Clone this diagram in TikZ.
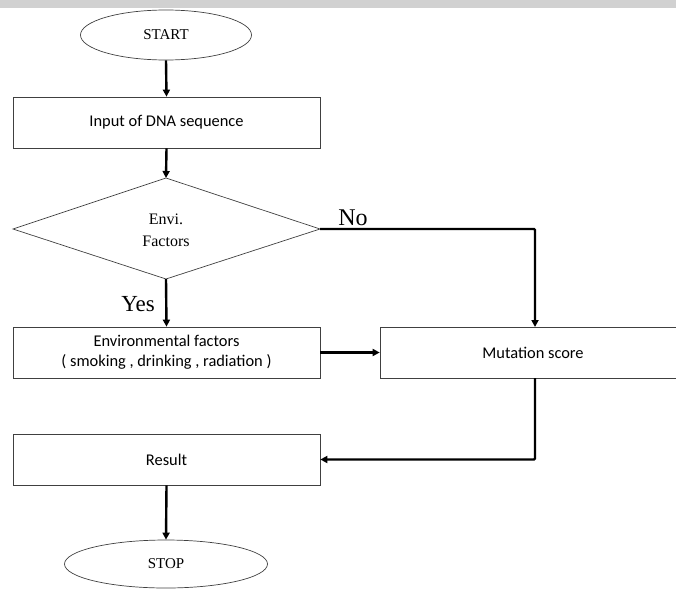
\documentclass[tikz,border=0pt]{standalone}
\usepackage{fontspec}
\setmainfont{Liberation Serif}
\newfontfamily\boxfont{Carlito}
\usetikzlibrary{arrows.meta,shapes.geometric,shadows}
\begin{document}
\begin{tikzpicture}[x=1pt,y=-1pt,
  boxstyle/.style={draw=black!75,line width=0.7pt,fill=white,rectangle,minimum width=307pt,minimum height=51pt,inner sep=0pt,align=center,font=\boxfont\fontsize{16.4}{20}\selectfont,drop shadow={shadow xshift=1.2pt,shadow yshift=-1.2pt,opacity=0.35}},
  termstyle/.style={draw=black!75,line width=0.7pt,ellipse,inner sep=0pt,font=\fontsize{15}{17}\selectfont},
  decstyle/.style={draw=black!75,line width=0.7pt,inner sep=0pt},
  flow/.style={line width=2.4pt,-{Triangle[length=7pt,width=7pt]}},
  lbl/.style={inner sep=0pt}]
\useasboundingbox (0,0) rectangle (676,589);
\fill[black!18] (0,0) rectangle (676,8);
\node[termstyle,minimum width=171pt,minimum height=50pt] (start) at (166,35) {START};
\node[boxstyle] (input) at (166.5,122.5) {Input of DNA sequence};
\coordinate (dt) at (166,178);
\coordinate (dl) at (13,229);
\coordinate (dr) at (320,229);
\coordinate (db) at (166,279);
\draw[decstyle] (dt) -- (dr) -- (db) -- (dl) -- cycle;
\node[align=center,font=\fontsize{16}{22}\selectfont] (dec) at (166,230) {Envi.\\Factors};
\node[boxstyle] (env) at (166.5,352.5) {Environmental factors\\( smoking , drinking , radiation )};
\begin{scope}
\clip (0,0) rectangle (676,589);
\node[boxstyle,minimum width=310pt] (mut) at (535,352.5) {};
\end{scope}
\node[font=\boxfont\fontsize{16.4}{20}\selectfont] (muttext) at (533,353) {Mutation score};
\node[boxstyle] (result) at (166.5,459.5) {Result};
\node[termstyle,minimum width=203pt,minimum height=48pt] (stop) at (166,564) {STOP};
\coordinate (nocorner) at (535,229);
\coordinate (mutin) at (535,327);
\coordinate (mutout) at (535,378);
\coordinate (rescorner) at (535,459.5);
\node[lbl,font=\fontsize{23}{25}\selectfont] (yes) at (138,304) {Yes};
\node[lbl,font=\fontsize{24}{26}\selectfont] (no) at (353,218) {No};
\draw[flow] (start.south) -- (input.north);
\draw[flow] (input.south) -- (dt);
\draw[flow] (db) -- (env.north);
\draw[flow,rounded corners=1pt] (dr) -- (nocorner) -- (mutin);
\draw[flow] (env.east) -- (mut.west);
\draw[flow,rounded corners=1pt] (mutout) -- (rescorner) -- (result.east);
\draw[flow] (result.south) -- (stop.north);
\end{tikzpicture}
\end{document}
